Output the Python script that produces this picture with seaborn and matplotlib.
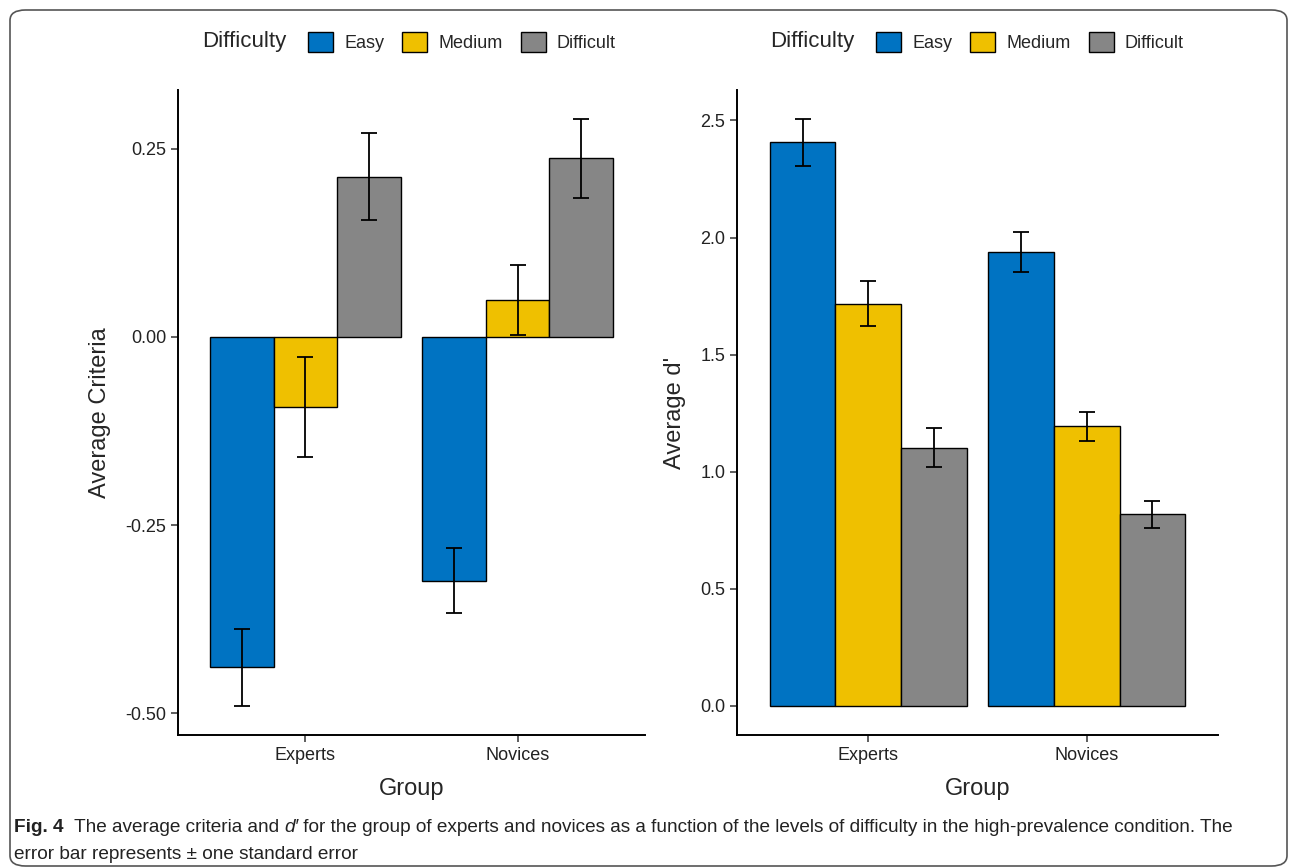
import numpy as np
import pandas as pd
import matplotlib
matplotlib.use("Agg")
import matplotlib.pyplot as plt
from matplotlib.patches import Patch, FancyBboxPatch
import seaborn as sns

groups = ["Experts", "Novices"]
levels = ["Easy", "Medium", "Difficult"]
colors = ["#0073C2", "#EFC000", "#868686"]

# average criteria (c) and standard error, per group x difficulty
crit_experts = [-0.439, -0.093, 0.213]
crit_novices = [-0.324, 0.049, 0.237]
crit_se_experts = [0.051, 0.066, 0.058]
crit_se_novices = [0.043, 0.047, 0.053]

# average d' and standard error
dp_experts = [2.406, 1.718, 1.103]
dp_novices = [1.940, 1.194, 0.819]
dp_se_experts = [0.100, 0.097, 0.082]
dp_se_novices = [0.085, 0.062, 0.058]

crit_ticks = [-0.50, -0.25, 0.00, 0.25]
dp_ticks = [0.0, 0.5, 1.0, 1.5, 2.0, 2.5]


def make_df(exp, nov, se_exp, se_nov):
    rows = []
    for g, vals, ses in [("Experts", exp, se_exp), ("Novices", nov, se_nov)]:
        for lv, v, s in zip(levels, vals, ses):
            rows.append({"Group": g, "Difficulty": lv, "mean": v, "se": s})
    return pd.DataFrame(rows)


crit_df = make_df(crit_experts, crit_novices, crit_se_experts, crit_se_novices)
dp_df = make_df(dp_experts, dp_novices, dp_se_experts, dp_se_novices)

sns.set_theme(style="ticks")
plt.rcParams["font.family"] = ["Liberation Sans", "DejaVu Sans"]

W, H = 1290, 868
fig = plt.figure(figsize=(W / 100, H / 100), dpi=100)
fig.patch.set_facecolor("white")


def px_box(x0, x1, ytop, ybot):
    return [x0 / W, 1 - ybot / H, (x1 - x0) / W, (ybot - ytop) / H]


ax1 = fig.add_axes(px_box(178, 645, 90, 735))
ax2 = fig.add_axes(px_box(737, 1218, 90, 735))


def draw_panel(ax, df, ylabel, ticks, fmt, ylim):
    sns.barplot(data=df, x="Group", y="mean", hue="Difficulty", order=groups,
                hue_order=levels, palette=colors, saturation=1, width=0.9, gap=0,
                edgecolor="black", linewidth=1.0, errorbar=None, ax=ax,
                legend=False)
    # error bars at the bar centres
    for lv, cont in zip(levels, ax.containers):
        sub = df[df["Difficulty"] == lv].set_index("Group").loc[groups]
        xs = [p.get_x() + p.get_width() / 2 for p in cont.patches]
        ax.errorbar(xs, sub["mean"].values, yerr=sub["se"].values, fmt="none",
                    ecolor="black", elinewidth=1.3, capsize=5.5, capthick=1.3,
                    zorder=5)
    ax.set_xlim(-0.6, 1.6)
    ax.set_ylim(*ylim)
    ax.set_yticks(ticks)
    ax.set_yticklabels([fmt.format(t) for t in ticks])
    ax.set_ylabel(ylabel, fontsize=17, labelpad=10)
    ax.set_xlabel("Group", fontsize=17, labelpad=10)
    ax.tick_params(axis="both", labelsize=13, length=5, width=1.1,
                   color="#333333", labelcolor="#222222")
    for s in ["top", "right"]:
        ax.spines[s].set_visible(False)
    for s in ["left", "bottom"]:
        ax.spines[s].set_color("black")
        ax.spines[s].set_linewidth(1.4)
    ax.set_facecolor("white")


draw_panel(ax1, crit_df, "Average Criteria", crit_ticks, "{:.2f}", (-0.529, 0.328))
draw_panel(ax2, dp_df, "Average d'", dp_ticks, "{:.1f}", (-0.124, 2.63))

# ggplot-style legends on top
handles = [Patch(facecolor=c, edgecolor="black", linewidth=1.0) for c in colors]
for ax, tx, lx in [(ax1, 202, 308), (ax2, 770, 876)]:
    fig.text(tx / W, 1 - 42 / H, "Difficulty", fontsize=16, va="center", ha="left")
    fig.legend(handles, levels, loc="center left", bbox_to_anchor=(lx / W, 1 - 42 / H),
               ncol=3, frameon=False, fontsize=13, handlelength=1.4,
               handleheight=1.4, handletextpad=0.6, columnspacing=1.0,
               borderaxespad=0, borderpad=0)

# caption with a rounded frame
frame = FancyBboxPatch((10 / W, 2 / H), (1277 / W), (856 / H),
                       boxstyle="round,pad=0,rounding_size=0.012",
                       transform=fig.transFigure, facecolor="none",
                       edgecolor="#555555", linewidth=1.2, zorder=0)
fig.patches.append(frame)

cap_family = ["Liberation Sans Narrow", "Liberation Sans", "DejaVu Sans"]
fig.canvas.draw()
renderer = fig.canvas.get_renderer()


def chain(pieces, x, y):
    for txt, kw in pieces:
        t = fig.text(x / W, 1 - y / H, txt, fontsize=13.7, family=cap_family,
                     va="baseline", ha="left", color="#222222", **kw)
        bb = t.get_window_extent(renderer)
        x += bb.width


chain([("Fig. 4", {"weight": "bold"}),
       ("  The average criteria and ", {}),
       ("d\u2032", {"style": "italic"}),
       (" for the group of experts and novices as a function of the levels of difficulty in the high-prevalence condition. The", {})],
      14, 832)
chain([("error bar represents \u00b1 one standard error", {})], 14, 859)

fig.savefig("out.png", dpi=100, facecolor="white")
